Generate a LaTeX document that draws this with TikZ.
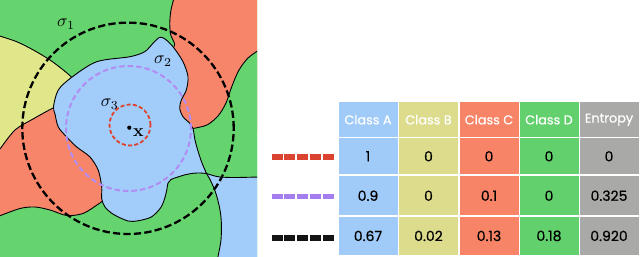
\documentclass[tikz,border=0pt]{standalone}
\usepackage[no-math]{fontspec}
\setmainfont{Poppins}
\newfontfamily\numfont{Poppins}[FakeBold=0.7]
\newfontfamily\headfont{Poppins}[FakeBold=0.6]
\definecolor{mgreen}{HTML}{66D46E}
\definecolor{mblue}{HTML}{A2CDFB}
\definecolor{mred}{HTML}{F7856A}
\definecolor{myellow}{HTML}{E0E68A}
\definecolor{cA}{HTML}{A0CBF8}
\definecolor{cB}{HTML}{DCDC8C}
\definecolor{cC}{HTML}{F88468}
\definecolor{cD}{HTML}{62D06D}
\definecolor{cE}{HTML}{A9AAA7}
\definecolor{sred}{HTML}{DE412C}
\definecolor{spurple}{HTML}{B18CF3}
\definecolor{lred}{HTML}{D9432F}
\definecolor{lpurple}{HTML}{A47EEE}
\definecolor{lblack}{HTML}{141414}
\newcommand{\biglab}[1]{\scalebox{1.75}{$#1$}}
\tikzset{
  border/.style={draw=black, line width=0.9pt, line join=round},
  cell/.style={minimum width=59pt, inner sep=0pt, anchor=center},
  headcell/.style={cell, minimum height=34.7pt, text=white, font=\headfont\fontsize{12.8}{13}\selectfont},
  numcell/.style={cell, text=black, font=\numfont\fontsize{14}{15}\selectfont},
  rowa/.style={numcell, minimum height=36pt},
  rowb/.style={numcell, minimum height=39.5pt},
  rowc/.style={numcell, minimum height=37.2pt},
  legline/.style={line width=6.3pt, dash pattern=on 11pt off 1.75pt},
  lab/.style={inner sep=0pt, text=black}
}
\begin{document}
\begin{tikzpicture}[x=1pt,y=-1pt]
\useasboundingbox (0,0) rectangle (640,257);
\fill[white] (0,0) rectangle (640,257);
% ---------------- map ----------------
\begin{scope}
\clip (0,0) rectangle (257,257);
\fill[mgreen] (-2,-2) rectangle (260,260);
% red, lower left
\fill[mred] plot[smooth] coordinates {(0,149) (15,130) (33,119) (52,108.5) (62,104)}
  -- (85,110) -- (120,195) -- (104,200)
  -- plot[smooth] coordinates {(104,200) (97,205) (83,213.5) (66.7,215.5) (50,210) (35,207) (20,208.5) (0,216)}
  -- (-5,216) -- (-5,149) -- cycle;
% yellow
\fill[myellow] plot[smooth] coordinates {(-2,35.5) (16.7,41.7) (33.3,50) (50,60) (63.3,70) (71.7,77.3) (78,84)}
  -- (85,100) -- (62,104)
  -- plot[smooth] coordinates {(62,104) (52,108.5) (33,119) (15,130) (0,149)}
  -- (-5,149) -- (-5,35.5) -- cycle;
% red, upper right
\fill[mred] plot[smooth] coordinates {(174,-2) (171,10) (169.8,22) (170.5,34) (174.5,43.5) (174,46.5)}
  -- (165,60) -- (170,110) -- (188,131) -- (260,131) -- (260,-2) -- cycle;
% green, right
\fill[mgreen] plot[smooth] coordinates {(259,50) (248,58) (239,70) (232,86) (226,103) (218,116) (207,125) (193,128.5)}
  -- (188,131) -- (190,145) -- (197,162) -- (206.5,173.5)
  -- plot[smooth] coordinates {(206.5,173.5) (213,175.5) (220,177) (235,177.5) (259,177)}
  -- (260,177) -- (260,50) -- cycle;
% blue, lower right
\fill[mblue] plot[smooth] coordinates {(206.5,173.5) (213,175.5) (220,177) (235,177.5) (259,177)}
  -- (260,260) -- (217.5,260)
  -- plot[smooth] coordinates {(217.5,259) (221,240) (221.3,222) (220,210) (217,197) (213.5,187) (210,179.5) (206.5,173.5)}
  -- cycle;
% boundary lines
\draw[border] plot[smooth] coordinates {(-2,35.5) (16.7,41.7) (33.3,50) (50,60) (63.3,70) (71.7,77.3) (78,84)};
\draw[border] plot[smooth] coordinates {(0,149) (15,130) (33,119) (52,108.5) (62,104)};
\draw[border] plot[smooth] coordinates {(104,200) (97,205) (83,213.5) (66.7,215.5) (50,210) (35,207) (20,208.5) (-2,216.5)};
\draw[border] plot[smooth] coordinates {(174,-2) (171,10) (169.8,22) (170.5,34) (174.5,43.5) (174,46.5)};
\draw[border] plot[smooth] coordinates {(259,50) (248,58) (239,70) (232,86) (226,103) (218,116) (207,125) (193,128.5)};
\draw[border] plot[smooth] coordinates {(206.5,173.5) (213,175.5) (220,177) (235,177.5) (259,177)};
\draw[border] plot[smooth] coordinates {(217.5,259) (221,240) (221.3,222) (220,210) (217,197) (213.5,187) (210,179.5) (206.5,173.5)};
% central blob
\path[border, fill=mblue] plot[smooth] coordinates {(206.5,173.5) (200,173) (193,173.3) (185,174.8) (177,177.3) (171,179.5) (168,183) (166.8,190) (164.5,199) (160.5,208) (151.3,217) (138,220.8) (128,221) (113.3,214.3) (105,207) (101.7,198.7) (101.7,187) (98.3,170.3) (90,157) (76.7,147) (66.7,137) (58.3,127) (55,114) (53.5,106.5) (58.3,90) (71.7,77.3) (96.7,61.7) (130,56.7) (144.7,51.7) (153,43.3) (159.7,37.3) (165,39) (173,46.7) (183,61.7) (188,76.7) (186.3,90) (181.3,100) (179.7,108.3) (183,116.7) (189.7,123.3) (193,128.5) (195,140) (198,151) (202,163) (206.5,173.5)} -- cycle;
\end{scope}
% circles
\coordinate (c1) at (128,128.3);
\coordinate (c2) at (128.5,128.5);
\coordinate (c3) at (130,125);
\draw[black, line width=2.3pt, dash pattern=on 7.3pt off 3.2pt] (c1) circle[radius=105.7pt];
\draw[spurple, line width=2pt, dash pattern=on 5.5pt off 3pt] (c2) circle[radius=62.5pt];
\draw[sred, line width=1.8pt, dash pattern=on 4pt off 2.3pt] (c3) circle[radius=20.5pt];
\node[circle, fill=black, inner sep=0pt, minimum size=4.2pt] (dot) at (129.3,127.7) {};
\node[lab] (xl) at (138.5,132.5) {\biglab{\mathbf{x}}};
\node[lab] (s1) at (66,24) {\biglab{\sigma_1}};
\node[lab] (s2) at (163,61) {\biglab{\sigma_2}};
\node[lab] (s3) at (109.7,104.5) {\biglab{\sigma_3}};
% ---------------- legend ----------------
\coordinate (lr1) at (271.7,157);
\coordinate (lr2) at (334,157);
\coordinate (lp1) at (271.7,196.7);
\coordinate (lp2) at (334,196.7);
\coordinate (lb1) at (271.7,238.3);
\coordinate (lb2) at (334,238.3);
\draw[legline, lred] (lr1) -- (lr2);
\draw[legline, lpurple, line width=5.3pt] (lp1) -- (lp2);
\draw[legline, lblack] (lb1) -- (lb2);
% ---------------- table ----------------
\node[headcell, fill=cA] (hA) at (368,119.7) {Class A};
\node[headcell, fill=cB] (hB) at (428.5,119.7) {Class B};
\node[headcell, fill=cC] (hC) at (489,119.7) {Class C};
\node[headcell, fill=cD] (hD) at (549,119.7) {Class D};
\node[headcell, fill=cE] (hE) at (609,119.7) {Entropy};
\node[rowa, fill=cA] (a1) at (368,156.3) {1};
\node[rowa, fill=cB] (b1) at (428.5,156.3) {0};
\node[rowa, fill=cC] (c1n) at (489,156.3) {0};
\node[rowa, fill=cD] (d1) at (549,156.3) {0};
\node[rowa, fill=cE] (e1) at (609,156.3) {0};
\node[rowb, fill=cA] (a2) at (368,195.7) {0.9};
\node[rowb, fill=cB] (b2) at (428.5,195.7) {0};
\node[rowb, fill=cC] (c2n) at (489,195.7) {0.1};
\node[rowb, fill=cD] (d2) at (549,195.7) {0};
\node[rowb, fill=cE] (e2) at (609,195.7) {0.325};
\node[rowc, fill=cA] (a3) at (368,235.9) {0.67};
\node[rowc, fill=cB] (b3) at (428.5,235.9) {0.02};
\node[rowc, fill=cC] (c3n) at (489,235.9) {0.13};
\node[rowc, fill=cD] (d3) at (549,235.9) {0.18};
\node[rowc, fill=cE] (e3) at (609,235.9) {0.920};
\end{tikzpicture}
\end{document}
